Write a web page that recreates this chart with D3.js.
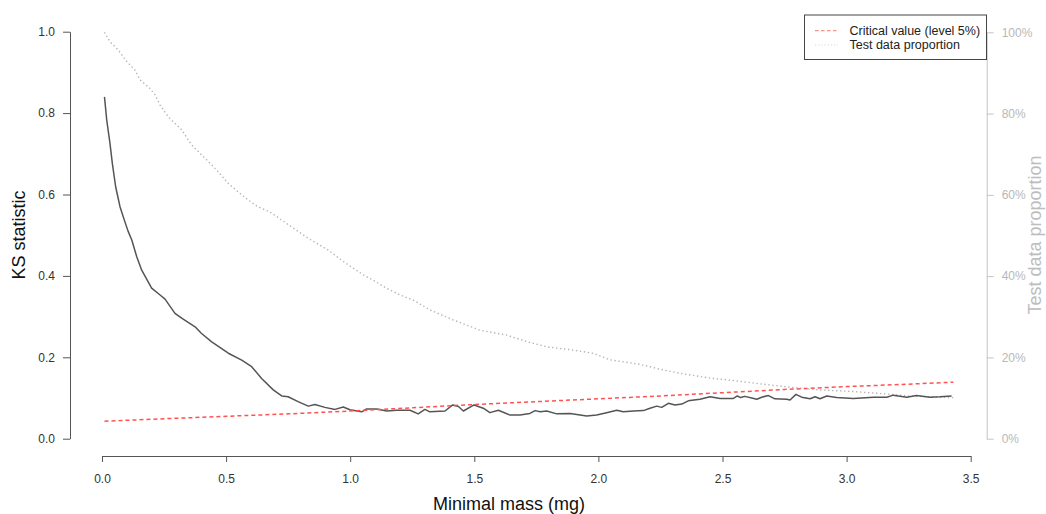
<!DOCTYPE html>
<html>
<head>
<meta charset="utf-8">
<script src="https://cdn.jsdelivr.net/npm/d3@7"></script>
<style>
  body { margin: 0; background: #fff; }
  svg { display: block; font-family: "Liberation Sans", Arial, sans-serif; }
  .axis-left path, .axis-left line, .axis-bottom path, .axis-bottom line { stroke: #555; }
  .axis-left text, .axis-bottom text { fill: #333; font-size: 12px; }
  .axis-right path, .axis-right line { stroke: #c4c4c4; }
  .axis-right text { fill: #b8b8b8; font-size: 12px; }
</style>
</head>
<body>
<svg id="chart" width="1046" height="514"></svg>
<script>
// KS statistic per minimal mass threshold
const ksMass = [0.01, 0.019, 0.032, 0.0415, 0.055, 0.0725, 0.09, 0.105, 0.12, 0.14, 0.16, 0.20, 0.234, 0.254, 0.294, 0.321,
  0.375, 0.40, 0.442, 0.509, 0.563, 0.603, 0.643, 0.69, 0.724, 0.75, 0.79, 0.831, 0.858, 0.898, 0.939, 0.972, 0.999,
  1.046, 1.066, 1.107, 1.147, 1.187, 1.241, 1.274, 1.301, 1.321, 1.382, 1.413, 1.436, 1.456, 1.499, 1.536, 1.563, 1.597,
  1.644, 1.684, 1.724, 1.745, 1.765, 1.792, 1.832, 1.886, 1.953, 1.993, 2.033, 2.074, 2.10, 2.141, 2.181, 2.208, 2.235,
  2.255, 2.282, 2.309, 2.336, 2.362, 2.409, 2.45, 2.49, 2.544, 2.56, 2.573, 2.59, 2.618, 2.638, 2.658, 2.685, 2.711,
  2.759, 2.772, 2.796, 2.819, 2.853, 2.873, 2.893, 2.92, 2.96, 3.027, 3.108, 3.162, 3.188, 3.242, 3.282, 3.336, 3.376,
  3.423];
const ksValue = [0.84, 0.783, 0.726, 0.677, 0.619, 0.57, 0.537, 0.51, 0.488, 0.447, 0.414, 0.37, 0.353, 0.343, 0.308, 0.296,
  0.275, 0.259, 0.238, 0.21, 0.193, 0.177, 0.148, 0.12, 0.105, 0.103, 0.091, 0.080, 0.084, 0.077, 0.072, 0.078, 0.071,
  0.066, 0.073, 0.073, 0.068, 0.070, 0.070, 0.061, 0.072, 0.066, 0.068, 0.083, 0.079, 0.068, 0.083, 0.075, 0.064, 0.070,
  0.058, 0.058, 0.062, 0.069, 0.066, 0.068, 0.061, 0.062, 0.056, 0.058, 0.064, 0.070, 0.066, 0.068, 0.069, 0.075, 0.080,
  0.077, 0.087, 0.083, 0.085, 0.093, 0.097, 0.103, 0.099, 0.099, 0.105, 0.101, 0.104, 0.100, 0.097, 0.102, 0.106, 0.098,
  0.097, 0.095, 0.109, 0.102, 0.098, 0.103, 0.098, 0.105, 0.101, 0.099, 0.102, 0.102, 0.107, 0.102, 0.106, 0.102, 0.103,
  0.105];

// critical value (level 5%)
const critMass = [0.01, 0.25, 0.5, 0.75, 1.0, 1.25, 1.5, 1.75, 2.0, 2.25, 2.5, 2.75, 3.0, 3.25, 3.43];
const critValue = [0.043, 0.049, 0.055, 0.061, 0.068, 0.076, 0.084, 0.091, 0.098, 0.105, 0.113, 0.121, 0.128, 0.134, 0.139];

// proportion of test data kept
const propMass = [0.01, 0.032, 0.066, 0.1, 0.133, 0.153, 0.193, 0.214, 0.234, 0.267, 0.321, 0.361, 0.415, 0.462, 0.509,
  0.563, 0.616, 0.684, 0.724, 0.831, 0.912, 0.972, 1.053, 1.093, 1.147, 1.2, 1.254, 1.321, 1.416, 1.523, 1.63, 1.711,
  1.792, 1.899, 1.98, 2.047, 2.168, 2.248, 2.329, 2.45, 2.544, 2.651, 2.785, 2.893, 3.027, 3.162, 3.255, 3.43];
const propValue = [1.0, 0.977, 0.956, 0.928, 0.907, 0.883, 0.862, 0.846, 0.821, 0.792, 0.76, 0.723, 0.69, 0.661, 0.628,
  0.6, 0.575, 0.555, 0.538, 0.493, 0.464, 0.436, 0.403, 0.39, 0.37, 0.354, 0.341, 0.317, 0.292, 0.267, 0.255, 0.239,
  0.226, 0.218, 0.21, 0.194, 0.183, 0.171, 0.161, 0.149, 0.143, 0.135, 0.126, 0.12, 0.116, 0.11, 0.105, 0.101];

const xTicks = [0, 0.5, 1, 1.5, 2, 2.5, 3, 3.5];
const ksTicks = [0, 0.2, 0.4, 0.6, 0.8, 1.0];
const propTicks = [0, 0.2, 0.4, 0.6, 0.8, 1.0];
const legendLabels = ['Critical value (level 5%)', 'Test data proportion'];

const svg = d3.select('#chart');

const x = d3.scaleLinear().domain([0, 3.5]).range([102, 970.7]);
const yLeft = d3.scaleLinear().domain([0, 1]).range([438.7, 31.7]);
const yRight = d3.scaleLinear().domain([0, 1]).range([438.7, 32.3]);

const zip = (xs, ys) => xs.map((v, i) => [v, ys[i]]);

// axes
svg.append('g')
  .attr('class', 'axis-left')
  .attr('transform', 'translate(70,0)')
  .call(d3.axisLeft(yLeft).tickValues(ksTicks).tickFormat(d3.format('.1f')).tickSize(7).tickSizeOuter(0).tickPadding(8));

svg.append('g')
  .attr('class', 'axis-bottom')
  .attr('transform', 'translate(0,456)')
  .call(d3.axisBottom(x).tickValues(xTicks).tickFormat(d3.format('.1f')).tickSize(6).tickSizeOuter(0).tickPadding(12));

svg.append('g')
  .attr('class', 'axis-right')
  .attr('transform', 'translate(986.7,0)')
  .call(d3.axisRight(yRight).tickValues(propTicks).tickFormat(d3.format('.0%')).tickSize(7).tickSizeOuter(0).tickPadding(8));

// let the stylesheet drive axis fonts
svg.selectAll('g[class^=axis]').attr('font-family', null).attr('font-size', null);

// axis titles
svg.append('text')
  .attr('x', 509)
  .attr('y', 510)
  .attr('text-anchor', 'middle')
  .style('font-size', '18px')
  .style('fill', '#111')
  .text('Minimal mass (mg)');

svg.append('text')
  .attr('transform', 'translate(25,235) rotate(-90)')
  .attr('text-anchor', 'middle')
  .style('font-size', '18px')
  .style('fill', '#111')
  .text('KS statistic');

svg.append('text')
  .attr('transform', 'translate(1041,235) rotate(-90)')
  .attr('text-anchor', 'middle')
  .style('font-size', '18px')
  .style('fill', '#bdbdbd')
  .text('Test data proportion');

// lines
const lineLeft = d3.line().x(d => x(d[0])).y(d => yLeft(d[1]));
const lineRight = d3.line().x(d => x(d[0])).y(d => yRight(d[1]));

svg.append('path')
  .attr('d', lineRight(zip(propMass, propValue)))
  .attr('fill', 'none')
  .attr('stroke', '#b5b5b5')
  .attr('stroke-width', 1.4)
  .attr('stroke-dasharray', '1.4,2.6');

svg.append('path')
  .attr('d', lineLeft(zip(ksMass, ksValue)))
  .attr('fill', 'none')
  .attr('stroke', '#555')
  .attr('stroke-width', 1.5)
  .attr('stroke-linejoin', 'round');

svg.append('path')
  .attr('d', lineLeft(zip(critMass, critValue)))
  .attr('fill', 'none')
  .attr('stroke', '#ff5252')
  .attr('stroke-width', 1.5)
  .attr('stroke-dasharray', '4,3');

// legend
const legend = svg.append('g').attr('transform', 'translate(804.5,15)');
legend.append('rect')
  .attr('width', 182)
  .attr('height', 44.5)
  .attr('fill', '#fff')
  .attr('stroke', '#444')
  .attr('stroke-width', 1);

const legendStyles = [
  {stroke: '#ff8c8c', dash: '3.5,2.5'},
  {stroke: '#d6d6d6', dash: '1.2,2'}
];

legendLabels.forEach((label, i) => {
  const yy = 15.7 + i * 14.3;
  legend.append('line')
    .attr('x1', 10.5).attr('x2', 33.5)
    .attr('y1', yy).attr('y2', yy)
    .attr('stroke', legendStyles[i].stroke)
    .attr('stroke-width', 1.2)
    .attr('stroke-dasharray', legendStyles[i].dash);
  legend.append('text')
    .attr('x', 45)
    .attr('y', yy + 4.4)
    .style('font-size', '12.5px')
    .style('fill', '#222')
    .text(label);
});
</script>
</body>
</html>
